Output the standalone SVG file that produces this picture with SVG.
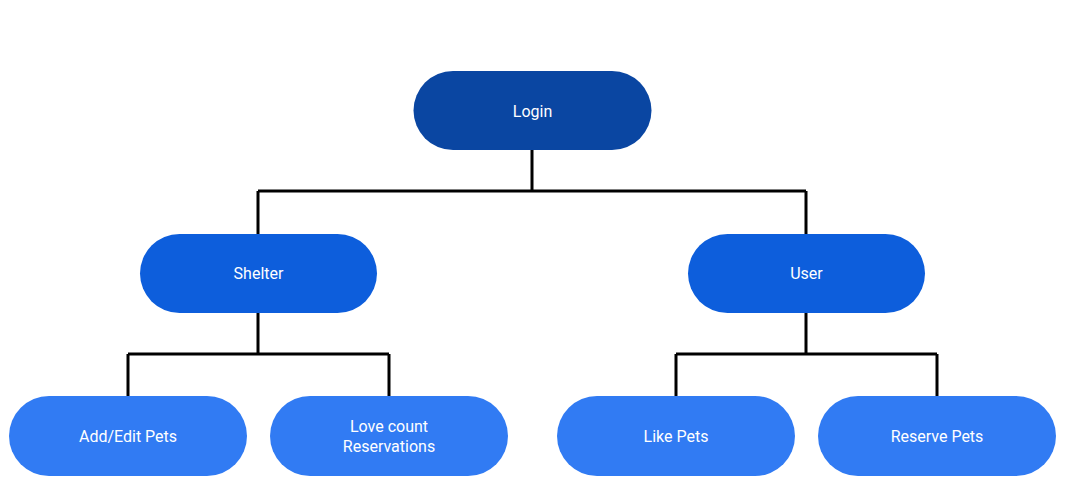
<svg xmlns="http://www.w3.org/2000/svg" width="1065" height="489" viewBox="0 0 1065 489">
<style>
.n text{font-family:Roboto,"Liberation Sans",sans-serif;font-size:16px;fill:#ffffff;text-anchor:middle;dominant-baseline:central}
.l1 rect{fill:#0A46A2}
.l2 rect{fill:#0D5EDC}
.l3 rect{fill:#317BF3}
#connectors path{fill:none;stroke:#000;stroke-width:3}
</style>
<rect width="1065" height="489" fill="#fff"/>
<g id="connectors">
<path d="M532 150V191M258 191H806M258 191V234M806 191V234"/>
<path d="M258 313V354M128 354H389M128 354V396M389 354V396"/>
<path d="M806 313V354M676 354H937M676 354V396M937 354V396"/>
</g>
<g id="login" class="n l1"><rect x="413.5" y="71" width="238" height="79" rx="39.5"/><text x="532.5" y="111">Login</text></g>
<g id="shelter" class="n l2"><rect x="140" y="234" width="237" height="79" rx="39.5"/><text x="258.5" y="273">Shelter</text></g>
<g id="user" class="n l2"><rect x="688" y="234" width="237" height="79" rx="39.5"/><text x="806.5" y="273">User</text></g>
<g id="addedit" class="n l3"><rect x="9" y="396" width="238" height="80" rx="40"/><text x="128" y="436">Add/Edit Pets</text></g>
<g id="lovecount" class="n l3"><rect x="270" y="396" width="238" height="80" rx="40"/><text x="389" y="426">Love count</text><text x="389" y="446">Reservations</text></g>
<g id="likepets" class="n l3"><rect x="557" y="396" width="238" height="80" rx="40"/><text x="676" y="436">Like Pets</text></g>
<g id="reservepets" class="n l3"><rect x="818" y="396" width="238" height="80" rx="40"/><text x="937" y="436">Reserve Pets</text></g>
</svg>
